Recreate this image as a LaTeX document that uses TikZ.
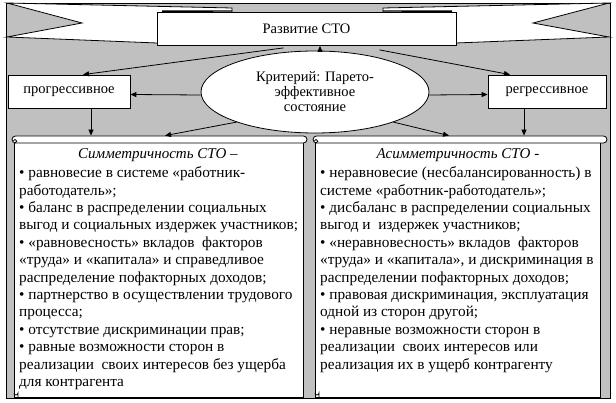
\documentclass[tikz,border=0pt]{standalone}
\usepackage{fontspec}
\setmainfont{Liberation Serif}
\usetikzlibrary{shapes.geometric,arrows.meta}
\definecolor{bggray}{HTML}{C0C0C0}
\tikzset{
  ln/.style={line width=0.8pt},
  arr/.style={ln, -{Triangle[length=6pt,width=5pt]}},
  wbox/.style={draw, ln, fill=white, inner sep=0pt},
  lab/.style={font=\fontsize{14.5}{15}\selectfont},
  body/.style={font=\fontsize{15.3}{17.4}\selectfont, align=left, inner sep=0pt, anchor=north west},
  ttl/.style={font=\fontsize{15}{17.4}\selectfont\itshape, inner sep=0pt},
  roll/.style={draw, ln, fill=white, rounded corners=3.5pt, minimum height=7pt, inner sep=0pt},
}
\begin{document}
\begin{tikzpicture}[x=1pt,y=-1pt]
\useasboundingbox (0,0) rectangle (616,403);
\fill[white] (0,0) rectangle (616,403);
\draw[ln, fill=bggray] (6,3) rectangle (610,398);
% ribbon tails
\draw[ln, fill=white] (7,3) -- (232,8) -- (232,20) -- (157,43) -- (7,37) -- (82,23) -- cycle;
\draw[ln, fill=white] (609,3) -- (383,8) -- (383,20) -- (456,43) -- (609,37) -- (533,23) -- cycle;
\node[wbox, minimum width=299pt, minimum height=33pt, lab] (title) at (306.5,29) {Развитие СТО};
\draw[line width=1.4pt] (162,11.2) -- (232,11);
\draw[line width=1.4pt] (383,11) -- (452,11.2);
% middle row
\node[wbox, ellipse, minimum width=228pt, minimum height=82pt, align=center, lab] (ell) at (315,92)
  {Критерий: Парето-\\эффективное\\состояние};
\node[wbox, minimum width=122pt, minimum height=33pt, lab] (prog) at (69,91.5) {прогрессивное};
\node[wbox, minimum width=118pt, minimum height=33pt, lab] (reg) at (547,91.5) {регрессивное};
% scrolls
\node[wbox, minimum width=289pt, minimum height=256pt, anchor=north west] (lbody) at (14,141) {};
\node[wbox, minimum width=285pt, minimum height=256pt, anchor=north west] (rbody) at (315,141) {};
\node[roll, minimum width=295pt] (lroll) at (159.5,139.5) {};
\node[roll, minimum width=294pt] (rroll) at (460,139.5) {};
\draw[ln] (15,143) arc (90:-180:1.8);
\draw[ln] (316,143) arc (90:-180:1.8);
\draw[ln] (14,393) arc (180:0:2) -- (18,397);
\draw[ln] (315,393) arc (180:0:2) -- (319,397);
% texts
\node[ttl] (ltitle) at (158,155) {Симметричность СТО –};
\node[ttl] (rtitle) at (458,155) {Асимметричность СТО -};
\node[body] (ltext) at (19,166.5) {%
•~равновесие в системе «работник-\\
работодатель»;\\
•~баланс в распределении социальных\\
выгод и социальных издержек участников;\\
•~«равновесность» вкладов\ \ факторов\\
«труда» и «капитала» и справедливое\\
распределение пофакторных доходов;\\
•~партнерство в осуществлении трудового\\
процесса;\\
•~отсутствие дискриминации прав;\\
•~равные возможности сторон в\\
реализации\ \ своих интересов без ущерба\\
для контрагента};
\node[body] (rtext) at (320,166.5) {%
•~неравновесие (несбалансированность) в\\
системе «работник-работодатель»;\\
•~дисбаланс в распределении социальных\\
выгод и\ \ издержек участников;\\
•~«неравновесность» вкладов\ \ факторов\\
«труда» и «капитала», и дискриминация в\\
распределении пофакторных доходов;\\
•~правовая дискриминация, эксплуатация\\
одной из сторон другой;\\
•~неравные возможности сторон в\\
реализации\ \ своих интересов или\\
реализация их в ущерб контрагенту};
% connectors
\draw[arr] ([xshift=5pt]ell.north) -- ([xshift=5pt]ell.north |- title.south);
\draw[arr] ([xshift=-23pt,yshift=-2pt]title.south) -- ([xshift=14pt]prog.north);
\draw[arr] ([xshift=73pt,yshift=-4pt]title.south) -- ([xshift=-37pt]reg.north);
\draw[arr] ([yshift=-3pt]ell.west) -- ([yshift=-3pt]prog.east);
\draw[arr] ([yshift=-3pt]ell.east) -- ([yshift=-3pt]reg.west);
\draw[arr] ([xshift=22pt]prog.south) -- ([xshift=22pt]prog.south |- lroll.north);
\draw[arr] ([xshift=-23pt]reg.south) -- ([xshift=-23pt]reg.south |- rroll.north);
\draw[arr] (ell.201) -- ([xshift=5.5pt]lroll.north);
\draw[arr] (ell.-21) -- ([xshift=-11pt]rroll.north);
\end{tikzpicture}
\end{document}
